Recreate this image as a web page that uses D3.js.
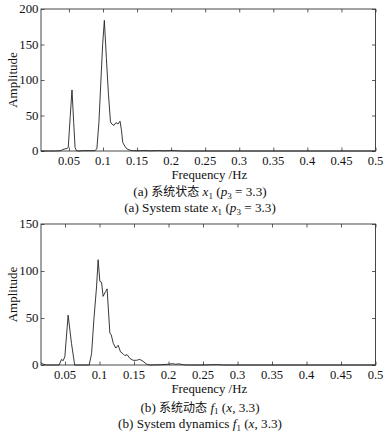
<!DOCTYPE html>
<html lang="zh">
<head>
    <meta charset="UTF-8">
    <title>Amplitude spectra</title>
    <script src="https://d3js.org/d3.v7.min.js"></script>
    <style>
        body { margin: 0; background: #fff; }
        svg text { font-family: "Liberation Serif", "Times New Roman", serif; fill: #111; }
        .cjk { font-family: "Noto Sans CJK SC", sans-serif; }
    </style>
</head>
<body>
<div id="chart"></div>
<script>
// panel (a): system state x1
const freqA = [0.009, 0.02, 0.03, 0.038, 0.041, 0.044, 0.047, 0.049, 0.052, 0.0545, 0.057, 0.059, 0.061, 0.065,
    0.07, 0.08, 0.088, 0.091, 0.094, 0.097, 0.0995, 0.102, 0.105, 0.108, 0.111, 0.113, 0.116, 0.119, 0.122,
    0.125, 0.127, 0.129, 0.132, 0.135, 0.14, 0.145, 0.15, 0.16, 0.17, 0.18, 0.19, 0.2, 0.21, 0.215, 0.5];
const ampA = [0, 0, 0, 0.5, 2, 3, 3.5, 5, 50, 86, 40, 5, 0.5, 0,
    0.5, 0.5, 0.5, 3, 40, 100, 150, 184, 130, 80, 41, 38, 36, 40, 38,
    42, 30, 12, 7, 3, 1, 0.5, 0.3, 0.6, 0.3, 0.6, 0.3, 0.6, 0.3, 0, 0];

// panel (b): system dynamics f1
const freqB = [0.015, 0.018, 0.023, 0.03, 0.0415, 0.045, 0.0473, 0.0498, 0.0545, 0.0594, 0.064, 0.075, 0.085,
    0.0885, 0.0918, 0.0957, 0.098, 0.1005, 0.103, 0.1052, 0.1087, 0.111, 0.115, 0.117, 0.12, 0.1236, 0.127,
    0.1304, 0.134, 0.1367, 0.14, 0.144, 0.1487, 0.1536, 0.1584, 0.163, 0.168, 0.173, 0.19, 0.2, 0.206,
    0.21, 0.215, 0.22, 0.225, 0.25, 0.27, 0.28, 0.5];
const ampB = [2.5, 1, 0, 0, 0, 6, 4.5, 9, 53, 23, 0, 0, 0,
    12, 48, 83, 112, 89, 88, 73, 78, 81, 34, 32, 23, 18, 21,
    14, 12, 10, 11, 7, 5, 5, 6, 4, 1, 0, 0.3, 0.8, 1.5,
    0.8, 1.2, 0.5, 0, 0, 0.4, 0, 0];

const xTicks = [0.05, 0.1, 0.15, 0.2, 0.25, 0.3, 0.35, 0.4, 0.45, 0.5];
const yTicksA = [0, 50, 100, 150, 200];
const yTicksB = [0, 50, 100, 150];

const W = 390, H = 433;
const svg = d3.select("#chart").append("svg")
    .attr("width", W).attr("height", H);

function panel(opts) {
    const { freq, amp, xDomain, yMax, yTicks, top, bottom, left, right } = opts;
    const x = d3.scaleLinear().domain(xDomain).range([left, right]);
    const y = d3.scaleLinear().domain([0, yMax]).range([bottom, top]);
    const g = svg.append("g");
    const tickLen = 3.5;

    // frame
    g.append("rect")
        .attr("x", left).attr("y", top)
        .attr("width", right - left).attr("height", bottom - top)
        .attr("fill", "none").attr("stroke", "#333").attr("stroke-width", 0.9);

    // inward ticks (bottom, top, left, right)
    g.append("g").attr("transform", `translate(0,${bottom})`)
        .call(d3.axisTop(x).tickValues(xTicks).tickSize(tickLen).tickFormat(""))
        .call(a => a.select(".domain").remove());
    g.append("g").attr("transform", `translate(0,${top})`)
        .call(d3.axisBottom(x).tickValues(xTicks).tickSize(tickLen).tickFormat(""))
        .call(a => a.select(".domain").remove());
    g.append("g").attr("transform", `translate(${left},0)`)
        .call(d3.axisRight(y).tickValues(yTicks).tickSize(tickLen).tickFormat(""))
        .call(a => a.select(".domain").remove());
    g.append("g").attr("transform", `translate(${right},0)`)
        .call(d3.axisLeft(y).tickValues(yTicks).tickSize(tickLen).tickFormat(""))
        .call(a => a.select(".domain").remove());
    g.selectAll(".tick line").attr("stroke", "#333").attr("stroke-width", 0.8);

    // tick labels
    g.selectAll(".xl").data(xTicks).enter().append("text")
        .attr("x", d => x(d)).attr("y", bottom + 13.8)
        .attr("text-anchor", "middle").attr("font-size", 12.6)
        .text(d => d3.format("")(d));
    g.selectAll(".yl").data(yTicks).enter().append("text")
        .attr("x", left - 2.5).attr("y", d => y(d) + 4.3)
        .attr("text-anchor", "end").attr("font-size", 12.8)
        .text(d => d);

    // spectrum line
    const pts = freq.map((f, i) => [f, amp[i]]);
    g.append("path").datum(pts)
        .attr("fill", "none").attr("stroke", "#222").attr("stroke-width", 0.9)
        .attr("stroke-linejoin", "round")
        .attr("d", d3.line().x(d => x(d[0])).y(d => y(d[1])));

    // axis titles
    g.append("text")
        .attr("x", (left + right) / 2 + 1).attr("y", bottom + 28.3)
        .attr("text-anchor", "middle").attr("font-size", 12.8)
        .text("Frequency /Hz");
    g.append("text")
        .attr("transform", `translate(16.5,${(top + bottom) / 2}) rotate(-90)`)
        .attr("text-anchor", "middle").attr("font-size", 13)
        .text("Amplitude");
}

panel({ freq: freqA, amp: ampA, xDomain: [0.009, 0.5], yMax: 200, yTicks: yTicksA,
    top: 9, bottom: 151, left: 41, right: 375.5 });
panel({ freq: freqB, amp: ampB, xDomain: [0.0152, 0.5], yMax: 150, yTicks: yTicksB,
    top: 224, bottom: 365, left: 41, right: 375.5 });

// captions built from tspans
function caption(yPos, parts) {
    const t = svg.append("text").attr("x", 200).attr("y", yPos)
        .attr("text-anchor", "middle").attr("font-size", 13.2);
    parts.forEach(p => {
        const s = t.append("tspan").text(p.t);
        if (p.cjk) s.attr("class", "cjk").attr("font-size", 12);
        if (p.it) s.attr("font-style", "italic");
        if (p.sub) s.attr("font-size", 9).attr("dy", 2.5);
        if (p.up) s.attr("dy", -2.5);
    });
}

caption(196, [
    { t: "(a) " }, { t: "系统状态", cjk: true }, { t: " " }, { t: "x", it: true }, { t: "1", sub: true },
    { t: " (", up: true }, { t: "p", it: true }, { t: "3", sub: true }, { t: " = 3.3)", up: true }
]);
caption(212, [
    { t: "(a) System state " }, { t: "x", it: true }, { t: "1", sub: true },
    { t: " (", up: true }, { t: "p", it: true }, { t: "3", sub: true }, { t: " = 3.3)", up: true }
]);
caption(411.5, [
    { t: "(b) " }, { t: "系统动态", cjk: true }, { t: " " }, { t: "f", it: true }, { t: "1", sub: true },
    { t: " (", up: true }, { t: "x", it: true }, { t: ", 3.3)" }
]);
caption(428, [
    { t: "(b) System dynamics " }, { t: "f", it: true }, { t: "1", sub: true },
    { t: " (", up: true }, { t: "x", it: true }, { t: ", 3.3)" }
]);
</script>
</body>
</html>
